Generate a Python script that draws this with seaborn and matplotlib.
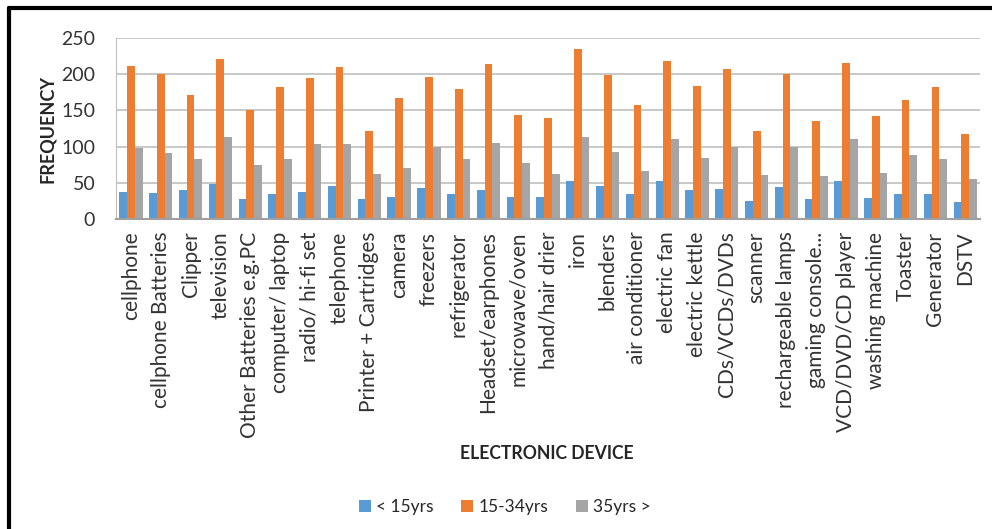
import pandas as pd
import numpy as np
import matplotlib
matplotlib.use('Agg')
import matplotlib.pyplot as plt
import seaborn as sns

# Data
devices = ['cellphone', 'cellphone Batteries', 'Clipper', 'television',
           'Other Batteries e.g.PC', 'computer/ laptop', 'radio/ hi-fi set',
           'telephone', 'Printer + Cartridges', 'camera', 'freezers',
           'refrigerator', 'Headset/earphones', 'microwave/oven',
           'hand/hair drier', 'iron', 'blenders', 'air conditioner',
           'electric fan', 'electric kettle', 'CDs/VCDs/DVDs', 'scanner',
           'rechargeable lamps', 'gaming console...', 'VCD/DVD/CD player',
           'washing machine', 'Toaster', 'Generator', 'DSTV']
under_15 = [38, 36, 40, 49, 28, 34, 38, 45, 27, 31, 43, 34, 40, 31, 31,
            52, 46, 35, 53, 40, 41, 25, 44, 28, 53, 29, 34, 34, 24]
age_15_34 = [212, 200, 171, 221, 150, 183, 195, 210, 122, 167, 196, 179,
             214, 144, 139, 235, 199, 157, 218, 184, 207, 122, 201, 135,
             215, 143, 164, 183, 117]
over_35 = [98, 91, 83, 113, 74, 83, 104, 103, 62, 70, 100, 83, 105, 77,
           62, 113, 93, 67, 110, 84, 100, 61, 99, 59, 110, 63, 89, 83, 55]
groups = ['< 15yrs', '15-34yrs', '35yrs >']
colors = ['#5B9BD5', '#ED7D31', '#A5A5A5']

df = pd.DataFrame({'Device': devices, groups[0]: under_15,
                   groups[1]: age_15_34, groups[2]: over_35})
df_long = df.melt(id_vars='Device', var_name='Age', value_name='Frequency')

sns.set_style('white')
plt.rcParams['font.family'] = ['Lato', 'DejaVu Sans']

fig = plt.figure(figsize=(9.92, 5.29), dpi=100)
ax = fig.add_axes([0.117, 0.586, 0.871, 0.342])

sns.barplot(data=df_long, x='Device', y='Frequency', hue='Age',
            palette=colors, width=0.78, ax=ax, saturation=1, legend=True,
            linewidth=0, edgecolor='none')

ax.set_ylim(0, 250)
ax.set_yticks(range(0, 251, 50))
ax.yaxis.grid(True, color='#BFBFBF', linewidth=1.2)
ax.set_axisbelow(True)
for s in ['top', 'right']:
    ax.spines[s].set_visible(False)
ax.spines['left'].set_color('#BFBFBF')
ax.spines['bottom'].set_color('#A0A0A0')
ax.spines['bottom'].set_linewidth(1.5)
ax.set_xlim(-0.5, len(devices) - 0.5)
ax.tick_params(axis='x', labelrotation=90, labelsize=15, length=0, pad=9,
               colors='#333333')
ax.tick_params(axis='y', labelsize=14, length=0, pad=15, colors='#333333')
ax.set_xlabel('ELECTRONIC DEVICE', fontsize=12.7, fontweight='bold',
              labelpad=0)
ax.xaxis.set_label_coords(0.498, -1.25)
ax.set_ylabel('FREQUENCY', fontsize=13, fontweight='bold')
ax.yaxis.set_label_coords(-0.07, 0.5)

handles, labels = ax.get_legend_handles_labels()
ax.legend_.remove()
fig.legend(handles, labels, loc='center', bbox_to_anchor=(0.509, 0.041),
           ncol=3, frameon=False, fontsize=12.5, handlelength=0.7,
           handleheight=0.7, handletextpad=0.3, columnspacing=1.6)

# Outer frame (only top and left edges show in the crop)
fig.add_artist(plt.Line2D([0.009, 0.009], [0, 0.985], color='black',
                          linewidth=3, transform=fig.transFigure))
fig.add_artist(plt.Line2D([0.009, 1.0], [0.985, 0.985], color='black',
                          linewidth=3, transform=fig.transFigure))

plt.savefig('out.png', dpi=100)
plt.close()
